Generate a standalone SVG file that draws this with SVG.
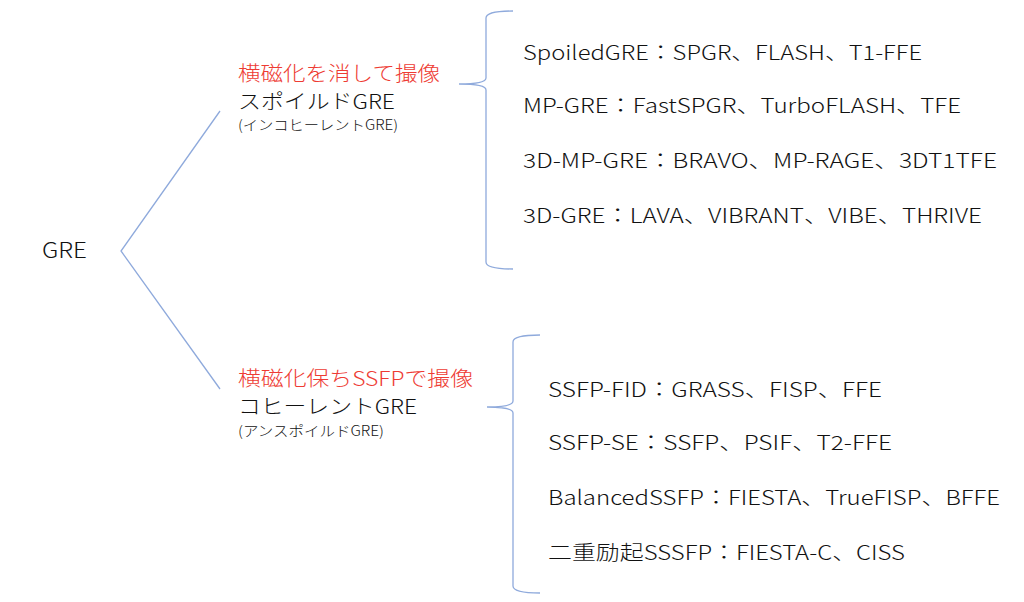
<svg xmlns="http://www.w3.org/2000/svg" width="1024" height="602" viewBox="0 0 1024 602">
<style>
text{font-family:"Noto Sans CJK JP","Noto Sans",sans-serif;fill:#111;font-weight:300}
.red{fill:#ee3b33;font-size:20px}
.mid{font-size:20px}
.sm{font-size:14px}
.item{font-size:20px}
.ln{fill:none;stroke:#8faadc;stroke-width:1.3}
</style>
<rect width="1024" height="602" fill="#fff"/>
<g id="connectors">
<path class="ln" d="M220,111 L121,251 L220,389"/>
<path class="ln" d="M513,11 Q486,11 486,18 L486,78 Q486,84 459,84 Q486,84 486,90 L486,262 Q486,269 513,269"/>
<path class="ln" d="M540,335 Q513,335 513,342 L513,401 Q513,407 487,407 Q513,407 513,413 L513,586 Q513,593 540,593"/>
</g>
<g id="root"><text x="42" y="258" font-size="21" textLength="45" lengthAdjust="spacingAndGlyphs">GRE</text></g>
<g id="spoiled">
<text class="red" x="238" y="81" textLength="202" lengthAdjust="spacingAndGlyphs">横磁化を消して撮像</text>
<text class="mid" x="238" y="109" textLength="157" lengthAdjust="spacingAndGlyphs">スポイルドGRE</text>
<text class="sm" x="238" y="130" textLength="160" lengthAdjust="spacingAndGlyphs">(インコヒーレントGRE)</text>
</g>
<g id="coherent">
<text class="red" x="238" y="386" textLength="235" lengthAdjust="spacingAndGlyphs">横磁化保ちSSFPで撮像</text>
<text class="mid" x="238" y="414" textLength="179" lengthAdjust="spacingAndGlyphs">コヒーレントGRE</text>
<text class="sm" x="238" y="436" textLength="146" lengthAdjust="spacingAndGlyphs">(アンスポイルドGRE)</text>
</g>
<g id="spoiled-list">
<text class="item" x="523" y="60" textLength="399" lengthAdjust="spacingAndGlyphs">SpoiledGRE：SPGR、FLASH、T1-FFE</text>
<text class="item" x="523" y="113" textLength="438" lengthAdjust="spacingAndGlyphs">MP-GRE：FastSPGR、TurboFLASH、TFE</text>
<text class="item" x="523" y="168" textLength="474" lengthAdjust="spacingAndGlyphs">3D-MP-GRE：BRAVO、MP-RAGE、3DT1TFE</text>
<text class="item" x="523" y="223" textLength="459" lengthAdjust="spacingAndGlyphs">3D-GRE：LAVA、VIBRANT、VIBE、THRIVE</text>
</g>
<g id="coherent-list">
<text class="item" x="548" y="397" textLength="334" lengthAdjust="spacingAndGlyphs">SSFP-FID：GRASS、FISP、FFE</text>
<text class="item" x="548" y="450" textLength="344" lengthAdjust="spacingAndGlyphs">SSFP-SE：SSFP、PSIF、T2-FFE</text>
<text class="item" x="548" y="505" textLength="452" lengthAdjust="spacingAndGlyphs">BalancedSSFP：FIESTA、TrueFISP、BFFE</text>
<text class="item" x="548" y="560" textLength="357" lengthAdjust="spacingAndGlyphs">二重励起SSSFP：FIESTA-C、CISS</text>
</g>
</svg>
